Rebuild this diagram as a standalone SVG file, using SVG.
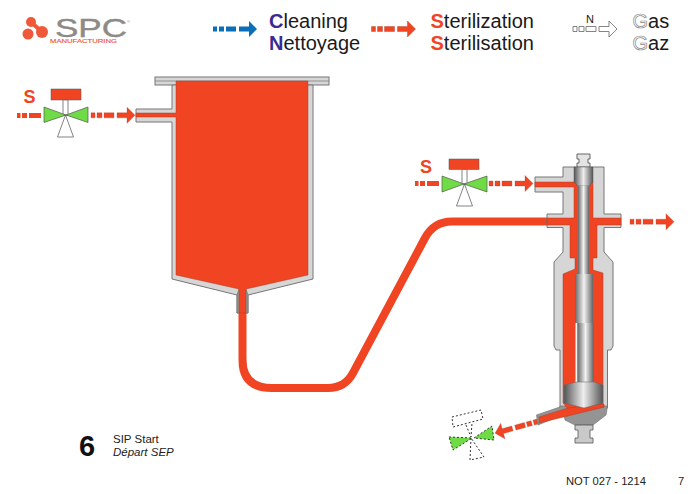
<svg xmlns="http://www.w3.org/2000/svg" width="700" height="494" viewBox="0 0 700 494">
<defs>
<linearGradient id="rod" x1="0" x2="1" y1="0" y2="0"><stop offset="0" stop-color="#666"/><stop offset=".5" stop-color="#f2f2f2"/><stop offset="1" stop-color="#666"/></linearGradient>
<linearGradient id="head" x1="0" x2="1" y1="0" y2="0"><stop offset="0" stop-color="#555"/><stop offset=".5" stop-color="#eee"/><stop offset="1" stop-color="#555"/></linearGradient>
<path id="flow" d="M0 0h4v5h-4zM6 0h5v5h-5zM13 0h10v5h-10zM26 0h10v-5.500l8 8-8 8v-5.500h-10z"/>
</defs>
<style>
text{font-family:"Liberation Sans",Arial,sans-serif}
.leg{font-size:20px;fill:#1a1a1a}
.red{fill:#f04423}
.sign{font-size:18px;font-weight:700;fill:#f04423;text-anchor:middle}
.wall{fill:#d6d6d6;stroke:#777;stroke-width:1}
.dark{fill:#949494;stroke:#777;stroke-width:.7}
.fl{fill:#f04423;stroke:#a8402a;stroke-width:.5}
.valve{fill:#6fdc45;stroke:#555;stroke-width:.7}
.hollow{fill:#fff;stroke:#666;stroke-width:.8}
.dots{fill:none;stroke:#333;stroke-width:1;stroke-dasharray:2 2}
.cap{fill:#222}
</style>
<g id="logo">
<g fill="#f0583a"><circle cx="31" cy="22" r="5"/><circle cx="42" cy="32" r="6"/><circle cx="28" cy="34" r="5.500"/><path d="M31 22L42 32" stroke="#f0583a" stroke-width="4"/></g>
<text x="55" y="37" font-size="25" fill="#8f8a86" stroke="#8f8a86" stroke-width=".4" textLength="72" lengthAdjust="spacingAndGlyphs">SPC</text>
<text x="127" y="23" font-size="4" fill="#8f8a86">®</text>
<text x="50" y="43" font-size="6" fill="#f0583a" stroke="#f0583a" stroke-width=".15" textLength="67" lengthAdjust="spacingAndGlyphs">MANUFACTURING</text>
</g>
<g id="legend">
<g id="legend-cleaning"><use href="#flow" x="213" y="26.500" fill="#0b6fb8"/>
<text class="leg" x="269" y="27.500"><tspan fill="#3a2a92" font-weight="700">C</tspan>leaning</text>
<text class="leg" x="269" y="50"><tspan fill="#3a2a92" font-weight="700">N</tspan>ettoyage</text></g>
<g id="legend-sterilization"><use href="#flow" x="371.500" y="26.500" fill="#f04423" stroke="#a8402a" stroke-width=".4"/>
<text class="leg" x="430.500" y="27.500"><tspan class="red" font-weight="700">S</tspan>terilization</text>
<text class="leg" x="430.500" y="50"><tspan class="red" font-weight="700">S</tspan>terilisation</text></g>
<g id="legend-gas"><use href="#flow" x="573" y="26.500" class="hollow"/>
<text x="590" y="22.500" font-size="11" fill="#1a1a1a" text-anchor="middle">N</text>
<text class="leg" x="632.500" y="27.500"><tspan fill="#fff" stroke="#888" stroke-width=".7">G</tspan>as</text>
<text class="leg" x="632.500" y="50"><tspan fill="#fff" stroke="#888" stroke-width=".7">G</tspan>az</text></g>
</g>
<g id="connectors">
<path d="M242.500 312V360Q242.500 388 272 388H328Q345 388 353 373L425 238Q434 221.500 452 221.500H548" fill="none" stroke="#f04423" stroke-width="8"/>
<use href="#flow" x="91" y="112.800" class="red" stroke="#a8402a" stroke-width=".3"/>
<use href="#flow" x="489" y="181" class="red" stroke="#a8402a" stroke-width=".3"/>
<use href="#flow" x="630" y="219.200" class="red" stroke="#a8402a" stroke-width=".3"/>
<path class="red" d="M17 113h3.500v5h-3.500zM22 113h5v5h-5zM29 113h12v5h-12z"/>
<path class="red" d="M415 181h3.500v5h-3.500zM420 181h5v5h-5zM427 181h12v5h-12z"/>
<use href="#flow" class="red" stroke="#a8402a" stroke-width=".3" transform="translate(537.500 421.500) rotate(164.500) translate(0 -2.500)"/>
</g>
<g id="tank">
<rect class="wall" x="155" y="77" width="174" height="8"/>
<path d="M155 81H329" stroke="#777" stroke-width=".7"/>
<path class="wall" d="M172 85V109H136V122H172V279L237 295V313H248V295L313 279V85Z"/>
<path class="dark" d="M237 295L239 289H246L248 295V313H237Z"/>
<path class="fl" d="M176 81H308V275L246 289V313H239V289L176 275V117H136V113H176Z"/>
</g>
<g id="valve-tank">
<text class="sign" x="29.500" y="102.500">S</text>
<rect x="51" y="89" width="30" height="11" fill="#f04423" stroke="#555" stroke-width=".5"/>
<path class="hollow" d="M63 100h5v15h-5zM65.500 115l8 22h-16z"/>
<path class="valve" d="M44 107l22 8-22 7.500zM88 107l-22 8 22 7.500z"/>
</g>
<g id="valve-filler">
<text class="sign" x="426" y="173">S</text>
<rect x="449" y="159" width="30" height="10.500" fill="#f04423" stroke="#555" stroke-width=".5"/>
<path class="hollow" d="M462 169.500h5v14.500h-5zM464.500 184l8 22h-16z"/>
<path class="valve" d="M442 176l22 8-22 8zM487 176l-23 8 23 8z"/>
</g>
<g id="filler">
<!-- body shell, flanges and inlet nozzle -->
<path class="wall" d="M535 177H563V167H604V214H621V227.500H604V252L613 262V346L611 350H607.500V408H560V350H556L554 346V262L563 252V227.500H547V214H563V192H535Z"/>
<!-- head cap -->
<path d="M577 154H590V159H588V163H590V167H577V163H579V159H577Z" fill="#e4e4e4" stroke="#666"/>
<!-- base casting and drain tube -->
<path class="dark" d="M560 406H607.500L606 415L593 425H575L565 420L564 414L538 425L536.500 415L560 407Z"/>
<path d="M575 425H593V430H590V438H593V443H575V438H578V430H575Z" fill="#c9c9c9" stroke="#555" stroke-width=".8"/>
<!-- product path -->
<path class="fl" d="M535 182H593V218H621V225H597V258H593V270L603 273V403L604 407L580 412L568 409L563 403V274L575 269V258H570V225H547V218H574V187H535Z"/>
<path class="fl" d="M539 417L568 408L604 404V407L580 413L539 423Z"/>
<!-- piston rod and head -->
<path d="M574 167H593V182L589 186H578L574 182Z" fill="url(#head)" stroke="#555" stroke-width=".5"/>
<rect x="578" y="186" width="11" height="88" fill="url(#rod)"/>
<rect x="575" y="274" width="18" height="49" fill="url(#rod)"/>
<rect x="575.500" y="323" width="2" height="60" fill="#f6f6f6"/>
<rect x="577.500" y="323" width="16" height="60" fill="url(#rod)"/>
<path d="M577 382H594L603 385V403L584 408L564 403V385Z" fill="url(#head)" stroke="#666" stroke-width=".5"/>
</g>
<g id="drain-valve">
<path class="dots" d="M452 417L481 410L483 419L453 427ZM466 425L471 437L472 423M471 438L470 460L484 457Z"/>
<path d="M449 437L472 438L453 450ZM474 438L492 426L494 440Z" fill="#6fdc45" stroke="#333" stroke-width="1" stroke-dasharray="2 2"/>
</g>
<g id="caption">
<text x="79" y="456" font-size="29" font-weight="700" fill="#111">6</text>
<text x="113" y="443" font-size="11.500" class="cap">SIP Start</text>
<text x="113" y="455.500" font-size="11.500" font-style="italic" class="cap">Départ SEP</text>
<text x="566" y="485" font-size="11.200" class="cap">NOT 027 - 1214</text>
<text x="678" y="485" font-size="11.200" class="cap">7</text>
</g>
</svg>
